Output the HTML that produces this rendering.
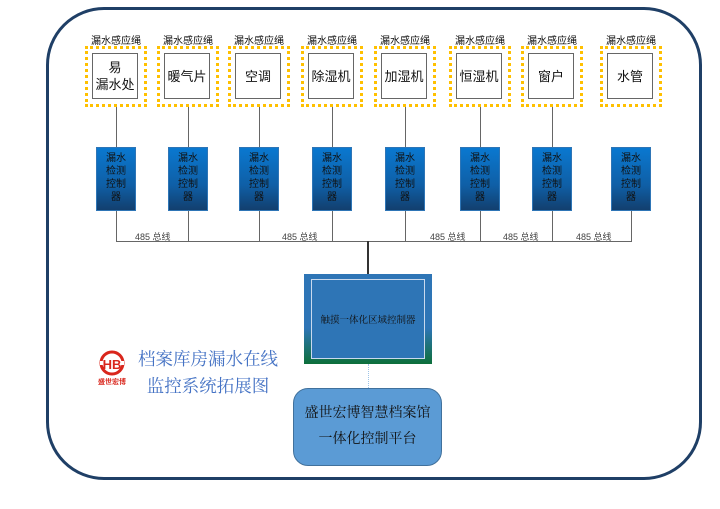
<!DOCTYPE html>
<html><head><meta charset="utf-8"><style>
body{margin:0;width:720px;height:509px;background:#fff;position:relative;overflow:hidden;font-family:"Liberation Sans","Noto Sans CJK SC",sans-serif}
.a{position:absolute}
.lbl{position:absolute;font-size:10px;color:#111;width:80px;text-align:center}
.dot{position:absolute;width:56px;height:55px;border:3px dotted #ffc000;top:46px}
.box{position:absolute;width:44px;height:44px;border:1.5px solid #666;background:#fff;top:53px;display:flex;align-items:center;justify-content:center;text-align:center;font-size:13px;line-height:17px;color:#111}
.ctl{position:absolute;width:40px;height:64px;top:147px;background:linear-gradient(#0a78d0,#0f5fa6 60%,#123f6e);border:1px solid #2e75b6;box-sizing:border-box;font-size:10px;line-height:13px;color:#111;text-align:center;padding-top:4px}
.v{position:absolute;width:1px;background:#666}
.bl{position:absolute;font-size:9px;color:#444;top:230px}
</style></head><body>
<div class="a" style="left:46px;top:7px;width:650px;height:467px;border:3.5px solid #1f3f66;border-radius:58px"></div>

<div class="v" style="left:116px;top:104px;height:138px"></div>
<div class="v" style="left:188px;top:104px;height:138px"></div>
<div class="v" style="left:259px;top:104px;height:138px"></div>
<div class="v" style="left:332px;top:104px;height:138px"></div>
<div class="v" style="left:405px;top:104px;height:138px"></div>
<div class="v" style="left:480px;top:104px;height:138px"></div>
<div class="v" style="left:552px;top:104px;height:138px"></div>
<div class="v" style="left:631px;top:210px;height:32px"></div>
<div class="a" style="left:116px;top:241px;width:516px;height:1px;background:#666"></div>
<div class="a" style="left:367px;top:241px;width:2px;height:34px;background:#333"></div>

<div class="bl" style="left:135px">485 总线</div>
<div class="bl" style="left:282px">485 总线</div>
<div class="bl" style="left:430px">485 总线</div>
<div class="bl" style="left:503px">485 总线</div>
<div class="bl" style="left:576px">485 总线</div>

<div class="lbl" style="left:76px;top:32px">漏水感应绳</div>
<div class="dot" style="left:85px"></div><div class="box" style="left:92px">易<br>漏水处</div>
<div class="ctl" style="left:96px">漏水<br>检测<br>控制<br>器</div>

<div class="lbl" style="left:148px;top:32px">漏水感应绳</div>
<div class="dot" style="left:157px"></div><div class="box" style="left:164px">暖气片</div>
<div class="ctl" style="left:168px">漏水<br>检测<br>控制<br>器</div>

<div class="lbl" style="left:219px;top:32px">漏水感应绳</div>
<div class="dot" style="left:228px"></div><div class="box" style="left:235px">空调</div>
<div class="ctl" style="left:239px">漏水<br>检测<br>控制<br>器</div>

<div class="lbl" style="left:292px;top:32px">漏水感应绳</div>
<div class="dot" style="left:301px"></div><div class="box" style="left:308px">除湿机</div>
<div class="ctl" style="left:312px">漏水<br>检测<br>控制<br>器</div>

<div class="lbl" style="left:365px;top:32px">漏水感应绳</div>
<div class="dot" style="left:374px"></div><div class="box" style="left:381px">加湿机</div>
<div class="ctl" style="left:385px">漏水<br>检测<br>控制<br>器</div>

<div class="lbl" style="left:440px;top:32px">漏水感应绳</div>
<div class="dot" style="left:449px"></div><div class="box" style="left:456px">恒湿机</div>
<div class="ctl" style="left:460px">漏水<br>检测<br>控制<br>器</div>

<div class="lbl" style="left:512px;top:32px">漏水感应绳</div>
<div class="dot" style="left:521px"></div><div class="box" style="left:528px">窗户</div>
<div class="ctl" style="left:532px">漏水<br>检测<br>控制<br>器</div>

<div class="lbl" style="left:591px;top:32px">漏水感应绳</div>
<div class="dot" style="left:600px"></div><div class="box" style="left:607px">水管</div>
<div class="ctl" style="left:611px">漏水<br>检测<br>控制<br>器</div>

<div class="a" style="left:304px;top:274px;width:128px;height:90px;background:linear-gradient(#2e75b6 60%,#0d6f3a)"></div>
<div class="a" style="left:311px;top:279px;width:112px;height:78px;background:#2e75b6;border:1px solid #c9d9ee;display:flex;align-items:center;justify-content:center;font-size:9.5px;color:#111;font-family:'Noto Serif CJK SC',serif">触摸一体化区域控制器</div>
<div class="a" style="left:368px;top:364px;width:0;height:24px;border-left:1px dotted #9dc3e6"></div>

<div class="a" style="left:293px;top:388px;width:149px;height:78px;background:#5b9bd5;border:1px solid #41719c;border-radius:15px;text-align:center;font-size:14px;line-height:26px;color:#111;font-family:'Noto Serif CJK SC',serif;padding-top:10px;box-sizing:border-box">盛世宏博智慧档案馆<br>一体化控制平台</div>

<svg class="a" style="left:97px;top:350px" width="32" height="36" viewBox="0 0 32 36">
<circle cx="15" cy="13" r="11" fill="none" stroke="#d9261c" stroke-width="3"/>
<rect x="3" y="11" width="24" height="4" fill="#fff"/>
<text x="15" y="19" font-size="13" font-weight="bold" fill="#d9261c" text-anchor="middle" font-family="Liberation Sans,sans-serif">HB</text>
<text x="15" y="34" font-size="7" font-weight="bold" fill="#d9261c" text-anchor="middle" font-family="Noto Sans CJK SC,sans-serif">盛世宏博</text>
</svg>
<div class="a" style="left:138px;top:345px;width:140px;text-align:center;font-size:17.5px;line-height:27px;color:#4472c4;font-family:'Noto Serif CJK SC',serif">档案库房漏水在线<br>监控系统拓展图</div>
</body></html>
